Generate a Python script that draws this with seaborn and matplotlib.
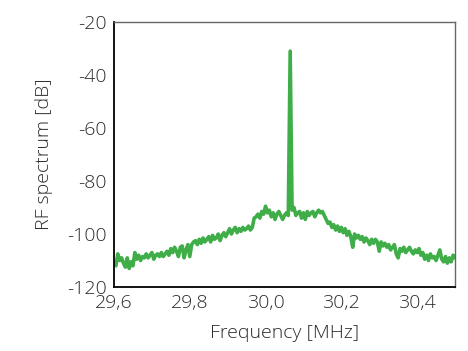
import numpy as np
import pandas as pd
import matplotlib
matplotlib.use("Agg")
import matplotlib.pyplot as plt
import seaborn as sns

# Measured RF spectrum, 0.005 MHz sweep step from 29.600 to 30.500 MHz
f_start = 29.6
f_stop = 30.5
level_db = [
    # 29.600 - 29.645
    -111, -112, -107.5, -110, -109, -111, -112.5, -109, -113, -110.5,
    # 29.650 - 29.695
    -112, -107, -109.5, -108, -110, -108.5, -109, -107.5, -109, -108,
    # 29.700 - 29.745
    -107, -109.5, -108, -107.5, -108.5, -107, -108.5, -107.5, -106.5, -108,
    # 29.750 - 29.795
    -105.5, -107, -105, -106.5, -108.5, -105, -104.5, -109, -106, -104,
    # 29.800 - 29.845
    -108.5, -104, -103, -102.5, -104, -102, -103.5, -101.5, -103, -102,
    # 29.850 - 29.895
    -101, -103, -100.5, -102, -101.5, -100, -102.5, -100.5, -99.5, -101,
    # 29.900 - 29.945
    -99.5, -98, -100, -98.5, -97.5, -99.5, -98, -99, -97.5, -98.5,
    # 29.950 - 29.995
    -98, -97, -98.5, -97.5, -94, -93.5, -92.5, -94, -91.5, -92.5,
    # 30.000 - 30.045
    -89.5, -92, -91, -93.5, -92, -94.5, -92.5, -91.5, -93, -94.5,
    # 30.050 - 30.095 (carrier at 30.065)
    -93, -92, -93, -31, -91, -90, -93, -92, -91.5, -94,
    # 30.100 - 30.145
    -92, -94.5, -91.5, -93, -92, -91.5, -93.5, -92, -91, -92,
    # 30.150 - 30.195
    -91.5, -93, -94.5, -96, -95.5, -97.5, -96.5, -98.5, -97, -99,
    # 30.200 - 30.245
    -97.5, -99.5, -98, -100.5, -99, -101, -105, -100, -101.5, -100.5,
    # 30.250 - 30.295
    -102, -101, -103, -101.5, -102.5, -104, -102, -103.5, -102, -103,
    # 30.300 - 30.345
    -106.5, -103, -104.5, -103.5, -105, -104, -106, -105, -104, -107.5,
    # 30.350 - 30.395
    -109, -105.5, -106.5, -105, -107, -106, -105, -106.5, -107.5, -106,
    # 30.400 - 30.445
    -107, -105.5, -108, -107, -109.5, -108, -110, -107.5, -109, -108.5,
    # 30.450 - 30.500
    -110, -108, -106, -109.5, -110.5, -108.5, -111, -109, -110.5, -108, -109,
]

x_ticks = [29.6, 29.8, 30.0, 30.2, 30.4]
x_tick_labels = ["29,6", "29,8", "30,0", "30,2", "30,4"]
y_ticks = [-120, -100, -80, -60, -40, -20]
y_tick_labels = ["-120", "-100", "-80", "-60", "-40", "-20"]

freq_mhz = np.linspace(f_start, f_stop, len(level_db))
df = pd.DataFrame({"Frequency": freq_mhz, "Level": level_db})

sns.set_theme(style="white")
plt.rcParams["font.family"] = ["Open Sans", "DejaVu Sans"]
plt.rcParams["axes.unicode_minus"] = False

fig = plt.figure(figsize=(4.68, 3.51), dpi=100)
ax = fig.add_axes([0.2436, 0.1823, 0.7286, 0.7550])

sns.lineplot(data=df, x="Frequency", y="Level", ax=ax,
             color="#3fae49", linewidth=2.6, estimator=None)

ax.set_xlim(f_start, f_stop)
ax.set_ylim(-120, -20)
ax.set_xticks(x_ticks)
ax.set_xticklabels(x_tick_labels)
ax.set_yticks(y_ticks)
ax.set_yticklabels(y_tick_labels)

text_color = "#2b2b2b"
label_font = dict(fontsize=14, fontweight="light", color=text_color)
ax.set_xlabel("Frequency [MHz]", labelpad=9, **label_font)
ax.set_ylabel("RF spectrum [dB]", labelpad=10, **label_font)

ax.tick_params(axis="both", direction="in", length=10, width=1.2,
               color="black", labelsize=14, labelcolor=text_color, pad=5)
for lab in ax.get_xticklabels() + ax.get_yticklabels():
    lab.set_fontweight("light")

for side in ("left", "bottom"):
    ax.spines[side].set_color("black")
    ax.spines[side].set_linewidth(1.3)
for side in ("top", "right"):
    ax.spines[side].set_color("#666666")
    ax.spines[side].set_linewidth(1.0)

fig.savefig("out.png", dpi=100)
